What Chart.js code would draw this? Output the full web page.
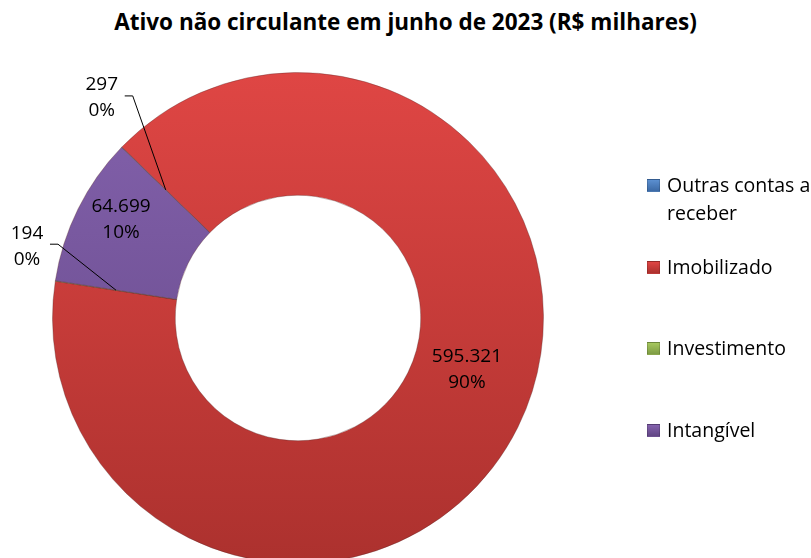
<!DOCTYPE html>
<html>
<head>
<meta charset="utf-8">
<script src="https://cdn.jsdelivr.net/npm/chart.js@4.4.0/dist/chart.umd.min.js"></script>
<style>
  html, body { margin: 0; padding: 0; background: #fff; overflow: hidden; }
  #wrap { position: relative; width: 811px; height: 558px; overflow: hidden; }
  #titulo {
    position: absolute; left: 0; top: 6px; width: 811px; text-align: center;
    font: bold 22.5px "Open Sans", sans-serif; line-height: 32px; color: #000;
  }
  #grafico { position: absolute; left: 0; top: 0; }
  #legenda { position: absolute; left: 647px; top: 0; font: 19.5px "Open Sans", sans-serif; color: #000; }
  .item { position: absolute; left: 0; white-space: nowrap; line-height: 28px; }
  .item span.box {
    position: absolute; left: 0; top: 8px; width: 13px; height: 13px;
    box-sizing: border-box; border: 1px solid rgba(0,0,0,0.15);
  }
  .item span.txt { display: block; margin-left: 20px; }
</style>
</head>
<body>
<div id="wrap">
  <div id="titulo"></div>
  <canvas id="grafico" width="811" height="640"></canvas>
  <div id="legenda"></div>
</div>
<script>
const titulo = "Ativo não circulante em junho de 2023 (R$ milhares)"
const categorias = ["Outras contas a receber", "Imobilizado", "Investimento", "Intangível"]
const legendaLinhas = [["Outras contas a", "receber"], ["Imobilizado"], ["Investimento"], ["Intangível"]]
const valores = [297, 595321, 194, 64699]

// cores (topo / base do degradê)
const corTopo = ["#5b8fd0", "#df4644", "#a6c75e", "#8462ad"]
const corBase = ["#3c6aa6", "#ac312e", "#7e9c44", "#624685"]
const legendaTop = [171, 253, 334, 416]

// deslocamento dos rótulos (posição do texto em relação ao ponto da fatia)
const rotuloDesl = [[-64, -92], [4, -30], [-89, -44], [-12, -17]]

document.getElementById('titulo').textContent = titulo

const legenda = document.getElementById('legenda')
legendaLinhas.forEach((linhas, i) => {
  const div = document.createElement('div')
  div.className = 'item'
  div.style.top = legendaTop[i] + 'px'
  const box = document.createElement('span')
  box.className = 'box'
  box.style.background = 'linear-gradient(' + corTopo[i] + ',' + corBase[i] + ')'
  div.appendChild(box)
  linhas.forEach(l => {
    const t = document.createElement('span')
    t.className = 'txt'
    t.textContent = l
    div.appendChild(t)
  })
  legenda.appendChild(div)
})

function formata(n) {
  return String(n).replace(/\B(?=(\d{3})+(?!\d))/g, '.')
}

const rotulos = {
  id: 'rotulos',
  afterDatasetsDraw(chart) {
    const ctx = chart.ctx
    const meta = chart.getDatasetMeta(0)
    const total = valores.reduce((a, b) => a + b, 0)
    ctx.save()
    ctx.font = '19px "Open Sans", sans-serif'
    ctx.fillStyle = '#000'
    ctx.textAlign = 'center'
    ctx.textBaseline = 'middle'
    meta.data.forEach((arc, i) => {
      const p = arc.getProps(['x', 'y', 'startAngle', 'endAngle', 'innerRadius', 'outerRadius'], true)
      const ang = (p.startAngle + p.endAngle) / 2
      const r = (p.innerRadius + p.outerRadius) / 2
      const ax = p.x + Math.cos(ang) * r
      const ay = p.y + Math.sin(ang) * r
      const cx = ax + rotuloDesl[i][0]
      const cy = ay + rotuloDesl[i][1]
      const pct = Math.round(valores[i] / total * 100) + '%'
      if (valores[i] / total < 0.02) {
        ctx.strokeStyle = '#000'
        ctx.lineWidth = 1
        ctx.beginPath()
        ctx.moveTo(cx + 23, cy - 2)
        ctx.lineTo(cx + 31, cy - 2)
        ctx.lineTo(ax, ay)
        ctx.stroke()
      }
      ctx.fillText(formata(valores[i]), cx, cy - 13)
      ctx.fillText(pct, cx, cy + 13)
    })
    ctx.restore()
  }
}

function degrade(context) {
  const chart = context.chart
  const area = chart.chartArea
  if (!area) return corTopo[context.dataIndex]
  const g = chart.ctx.createLinearGradient(0, area.top, 0, area.bottom)
  g.addColorStop(0, corTopo[context.dataIndex])
  g.addColorStop(1, corBase[context.dataIndex])
  return g
}

const config = {
  type: 'doughnut',
  data: {
    labels: categorias,
    datasets: [{
      data: valores,
      backgroundColor: degrade,
      borderColor: 'rgba(90,40,40,0.35)',
      borderWidth: 1
    }]
  },
  options: {
    responsive: false,
    animation: false,
    rotation: -46,
    cutout: '50%',
    layout: { padding: { left: 52, right: 267, top: 72, bottom: 76 } },
    plugins: {
      legend: { display: false },
      title: { display: false },
      tooltip: { enabled: false }
    }
  },
  plugins: [rotulos]
}

new Chart(document.getElementById('grafico'), config)
</script>
</body>
</html>
